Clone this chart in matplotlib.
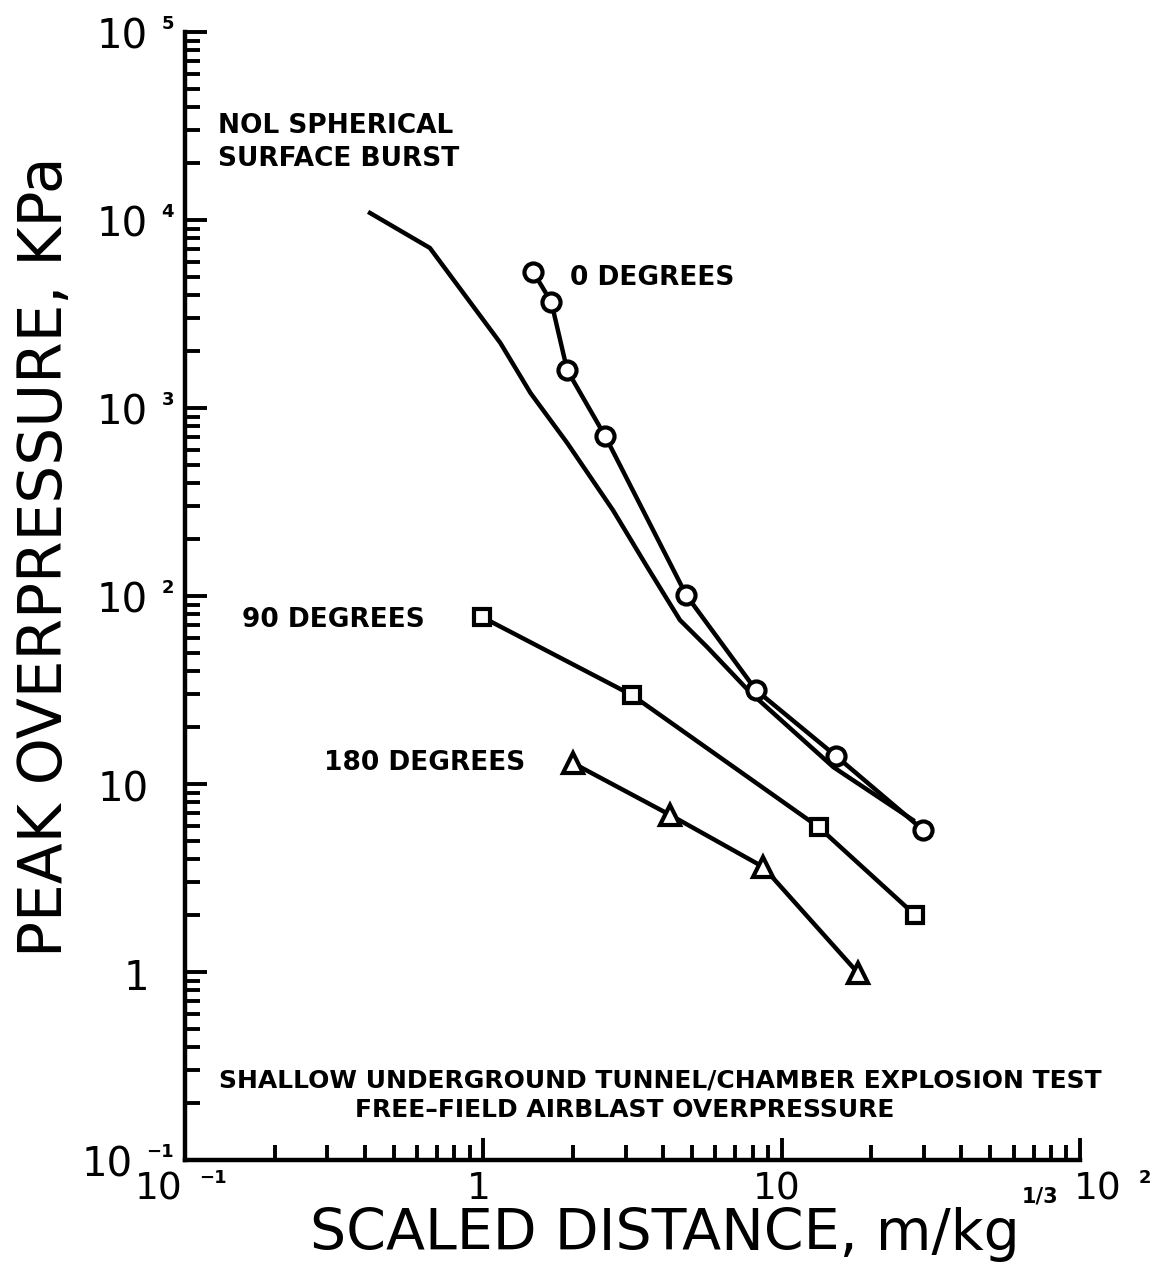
import matplotlib
matplotlib.use('Agg')
import matplotlib.pyplot as plt
from matplotlib.ticker import LogLocator, NullFormatter

# ---------------- data ----------------
nol_x = [0.417, 0.662, 1.14, 1.44, 1.91, 2.72, 3.54, 4.56, 5.62, 7.83, 14.9, 27.5]
nol_y = [10900, 7100, 2220, 1200, 652, 286, 143, 74.5, 53.6, 30.8, 12.3, 6.44]

deg0_x = [1.47, 1.69, 1.91, 2.56, 4.79, 8.20, 15.2, 29.8]
deg0_y = [5290, 3660, 1590, 709, 101, 31.6, 14.1, 5.69]

deg90_x = [0.99, 3.15, 13.3, 28.0]
deg90_y = [77.3, 29.7, 5.9, 2.01]

deg180_x = [2.0, 4.23, 8.67, 18.0]
deg180_y = [12.9, 6.84, 3.62, 0.99]

x_ticks = [0.1, 1, 10, 100]
x_tick_main = ['10', '1', '10', '10']
x_tick_exp = ['\u22121', '', '', '2']

y_ticks = [0.1, 1, 10, 100, 1e3, 1e4, 1e5]
y_tick_main = ['10', '1', '10', '10', '10', '10', '10']
y_tick_exp = ['\u22121', '', '', '2', '3', '4', '5']

# ---------------- figure ----------------
plt.rcParams['font.family'] = ['DejaVu Sans']
fig = plt.figure(figsize=(11.69, 12.64), dpi=100)
ax = fig.add_axes([185 / 1169, 104 / 1264, 895 / 1169, 1128 / 1264])
ax.set_xscale('log')
ax.set_yscale('log')
ax.set_xlim(0.1, 100)
ax.set_ylim(0.1, 1e5)

for s in ['top', 'right']:
    ax.spines[s].set_visible(False)
for s in ['left', 'bottom']:
    ax.spines[s].set_linewidth(3.2)

for axis in (ax.xaxis, ax.yaxis):
    axis.set_major_locator(LogLocator(base=10, numticks=20))
    axis.set_minor_locator(LogLocator(base=10, subs=range(2, 10), numticks=20))
    axis.set_minor_formatter(NullFormatter())
ax.set_xticks(x_ticks)
ax.set_yticks(y_ticks)
ax.tick_params(which='major', direction='in', length=16, width=2.8,
               labelleft=False, labelbottom=False)
ax.tick_params(which='minor', direction='in', length=11, width=2.8)

# ---------------- data lines ----------------
lw = 3.2
ax.plot(nol_x, nol_y, color='black', lw=lw, solid_joinstyle='round', zorder=2)
ax.plot(deg0_x, deg0_y, color='black', lw=lw, marker='o', ms=13, mew=3,
        mfc='white', mec='black', zorder=3)
ax.plot(deg90_x, deg90_y, color='black', lw=lw, marker='s', ms=11, mew=3,
        mfc='white', mec='black', zorder=3)
ax.plot(deg180_x, deg180_y, color='black', lw=lw, marker='^', ms=14, mew=3,
        mfc='white', mec='black', zorder=3)

# ---------------- tick labels ----------------
tick_fs = 29
exp_fs = 13
for yv, main, exp in zip(y_ticks, y_tick_main, y_tick_exp):
    if exp:
        e = ax.annotate(exp, xy=(0, yv), xycoords=('axes fraction', 'data'),
                        xytext=(-8, 6), textcoords='offset points',
                        ha='right', va='center', fontsize=exp_fs, fontweight='bold')
        ax.annotate(main, xy=(0, 0.5), xycoords=e, xytext=(-10, -10),
                    textcoords='offset points', ha='right', va='center',
                    fontsize=tick_fs)
    else:
        ax.annotate(main, xy=(0, yv), xycoords=('axes fraction', 'data'),
                    xytext=(-26, -5), textcoords='offset points',
                    ha='right', va='center', fontsize=tick_fs)

x_label_dx = [-19, -3.6, -3.6, 13]
for xv, main, exp, dx in zip(x_ticks, x_tick_main, x_tick_exp, x_label_dx):
    m = ax.annotate(main, xy=(xv, 0), xycoords=('data', 'axes fraction'),
                    xytext=(dx, -21), textcoords='offset points',
                    ha='center', va='center', fontsize=27)
    if exp:
        ax.annotate(exp, xy=(1, 0.5), xycoords=m, xytext=(12, 8),
                    textcoords='offset points', ha='left', va='center',
                    fontsize=exp_fs, fontweight='bold')

# ---------------- axis titles ----------------
fig.text(310 / 1169, 14 / 1264, 'SCALED DISTANCE, m/kg', fontsize=41,
         ha='left', va='baseline')
fig.text(1022 / 1169, 62 / 1264, '1/3', fontsize=15, fontweight='bold',
         ha='left', va='baseline')
fig.text(62 / 1169, (1264 - 557) / 1264, 'PEAK OVERPRESSURE, KPa', fontsize=43,
         rotation=90, rotation_mode='anchor', ha='center', va='baseline')

# ---------------- annotations ----------------
afs = 19
def atext(x, y, s, ha='left', fs=afs):
    ax.text(x, y, s, transform=ax.transAxes, fontsize=fs, fontweight='bold',
            ha=ha, va='baseline')

atext(0.0369, 0.9105, 'NOL SPHERICAL')
atext(0.0369, 0.8812, 'SURFACE BURST')
atext(0.430, 0.7757, '0 DEGREES')
atext(0.268, 0.4725, '90 DEGREES', ha='right')
atext(0.380, 0.3457, '180 DEGREES', ha='right')
atext(0.5307, 0.0647, 'SHALLOW UNDERGROUND TUNNEL/CHAMBER EXPLOSION TEST', ha='center', fs=18)
atext(0.4916, 0.0381, 'FREE\u2013FIELD AIRBLAST OVERPRESSURE', ha='center', fs=18)

fig.savefig('out.png', dpi=100)
